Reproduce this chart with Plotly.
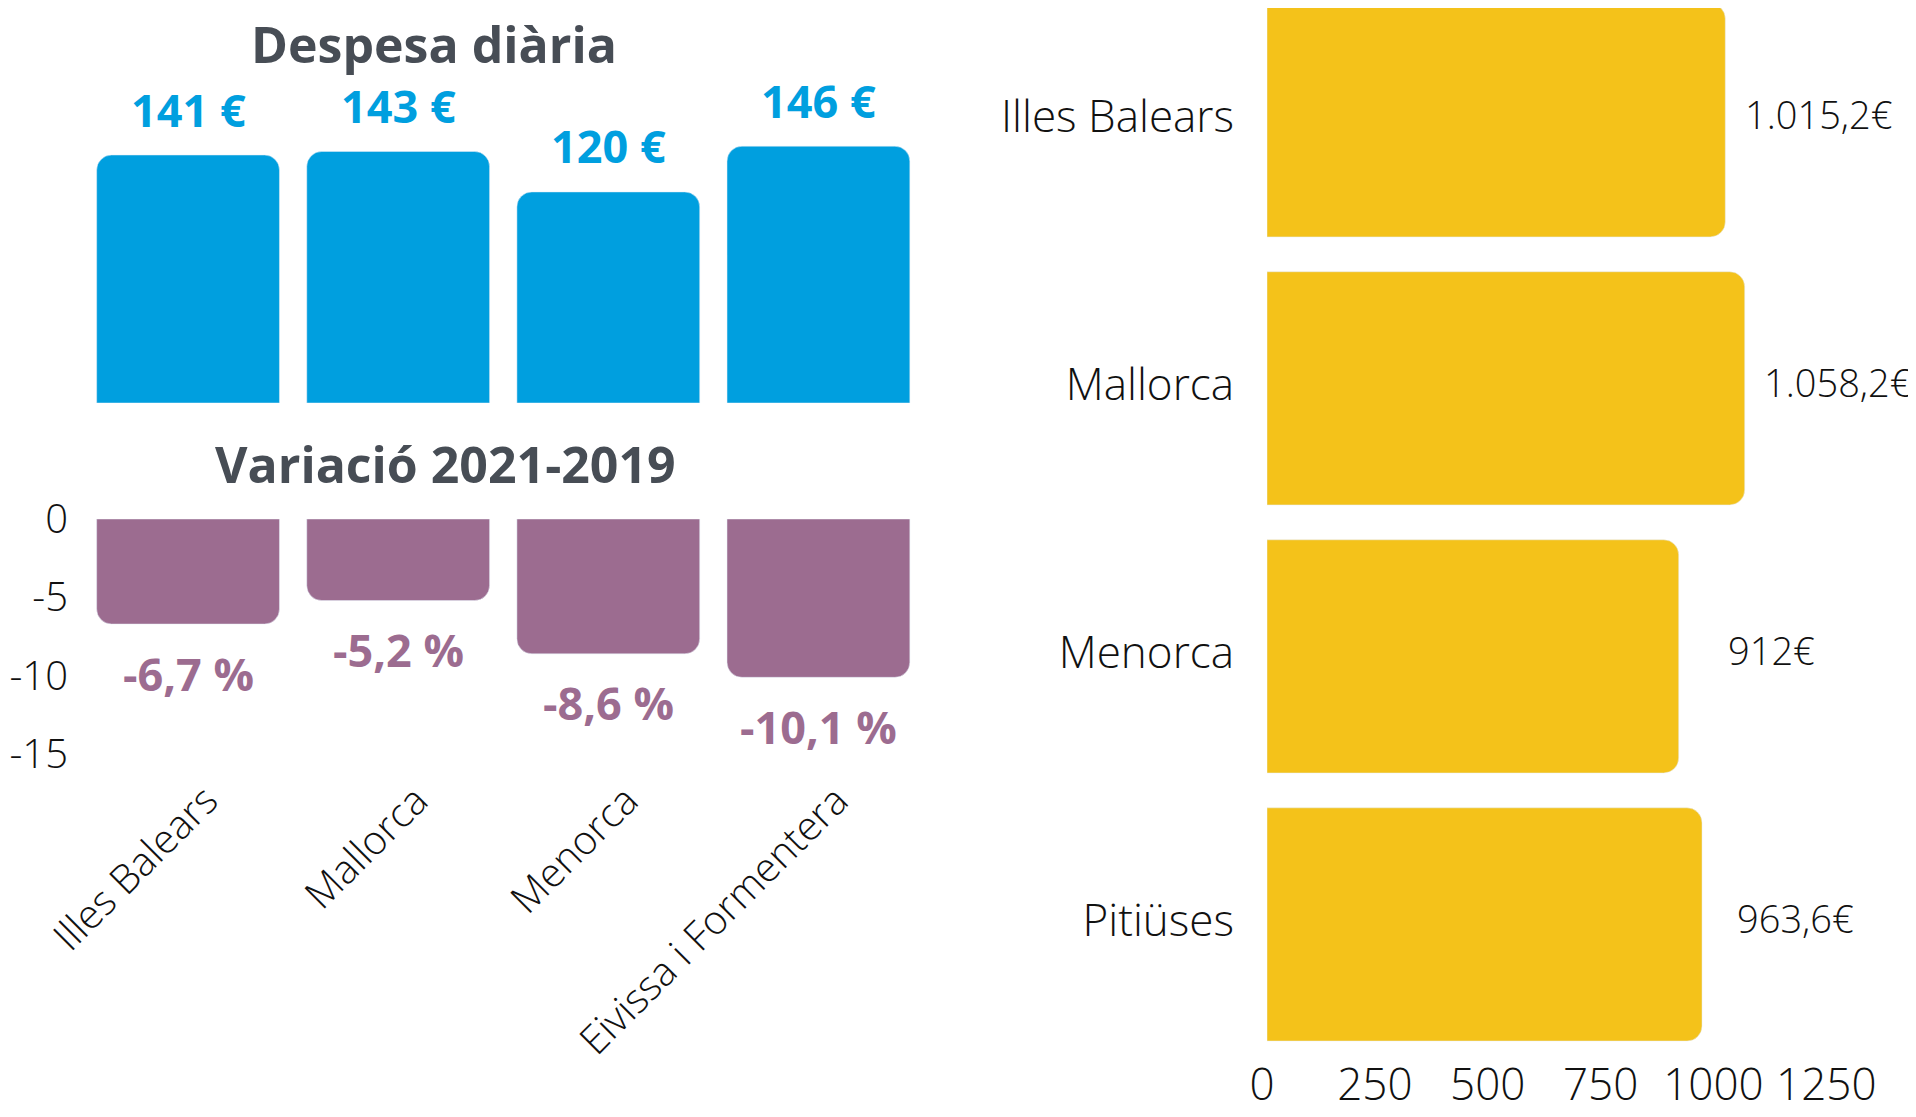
import plotly.graph_objects as go

W, H = 1916, 1117
OFF = 8  # page body margin of the browser

# ---- data ----
cats_left = ["Illes Balears", "Mallorca", "Menorca", "Eivissa i Formentera"]
daily_spend = [141, 143, 120, 146]
daily_labels = ["141 €", "143 €", "120 €", "146 €"]

variation = [-6.7, -5.2, -8.6, -10.1]
variation_labels = ["-6,7 %", "-5,2 %", "-8,6 %", "-10,1 %"]
var_tickvals = [0, -5, -10, -15]
var_ticktext = ["0", "-5", "-10", "-15"]

cats_right = ["Illes Balears", "Mallorca", "Menorca", "Pitiüses"]
total_spend = [1015.2, 1058.2, 912, 963.6]
total_labels = ["1.015,2€", "1.058,2€", "912€", "963,6€"]
right_tickvals = [0, 250, 500, 750, 1000, 1250]

title_top = "Despesa diària"
title_bottom = "Variació 2021-2019"

# ---- styles ----
BLUE = "#009FDF"
PURPLE = "#9C6C90"
YELLOW = "#F4C21A"
DARK = "#474D55"
FONT = "Open Sans"


def px_x(p):
    return (p - OFF) / W


def px_y(p):
    return 1 - (p - OFF) / H


fig = go.Figure()

fig.add_trace(go.Bar(x=cats_left, y=daily_spend, marker=dict(color=BLUE, cornerradius=15),
                     xaxis="x", yaxis="y", hoverinfo="skip"))
fig.add_trace(go.Bar(x=cats_left, y=variation, marker=dict(color=PURPLE, cornerradius=15),
                     xaxis="x2", yaxis="y2", hoverinfo="skip"))
fig.add_trace(go.Bar(y=cats_right, x=total_spend, orientation="h",
                     marker=dict(color=YELLOW, cornerradius=15),
                     xaxis="x3", yaxis="y3", hoverinfo="skip"))

annotations = []
for c, v, t in zip(cats_left, daily_spend, daily_labels):
    annotations.append(dict(x=c, y=v, xref="x", yref="y", text=t, showarrow=False,
                            yanchor="middle", yshift=46,
                            font=dict(family=FONT, size=45, color=BLUE, weight=700)))
for c, v, t in zip(cats_left, variation, variation_labels):
    annotations.append(dict(x=c, y=v, xref="x2", yref="y2", text=t, showarrow=False,
                            yanchor="middle", yshift=-49,
                            font=dict(family=FONT, size=45, color=PURPLE, weight=700)))
for c, v, t in zip(cats_right, total_spend, total_labels):
    annotations.append(dict(x=v, y=c, xref="x3", yref="y3", text=t, showarrow=False,
                            xanchor="center", xshift=93, yshift=6,
                            font=dict(family=FONT, size=38, color="#111111", weight=300)))
annotations.append(dict(x=px_x(434), y=1, xref="paper", yref="paper", text=title_top,
                        showarrow=False, xanchor="center", yanchor="top",
                        font=dict(family=FONT, size=50, color=DARK, weight=700)))
annotations.append(dict(x=px_x(445), y=px_y(464), xref="paper", yref="paper", text=title_bottom,
                        showarrow=False, xanchor="center", yanchor="middle",
                        font=dict(family=FONT, size=50, color=DARK, weight=700)))

light = dict(family=FONT, size=40, color="#111111", weight=300)

fig.update_layout(
    width=W, height=H,
    margin=dict(l=0, r=0, t=0, b=0, autoexpand=False),
    paper_bgcolor="white", plot_bgcolor="white",
    showlegend=False,
    bargap=0.13,
    font=dict(family=FONT),
    annotations=annotations,
    xaxis=dict(domain=[px_x(83), px_x(923.5)], showticklabels=False, showgrid=False,
               zeroline=False, showline=False, ticks="", automargin=False),
    yaxis=dict(domain=[px_y(403), px_y(104)], range=[0, 170], showticklabels=False,
               showgrid=False, zeroline=False, showline=False, automargin=False),
    xaxis2=dict(domain=[px_x(83), px_x(923.5)], tickangle=-45, tickfont=light,
                showgrid=False, zeroline=False, showline=False, ticks="", anchor="y2",
                ticklabelshift=18, ticklabelstandoff=6, automargin=False),
    yaxis2=dict(domain=[px_y(762), px_y(519)], range=[-15.5, 0], tickvals=var_tickvals,
                ticktext=var_ticktext, tickfont=light, showgrid=False, zeroline=False,
                showline=False, ticks="", ticklabelstandoff=14, anchor="x2",
                automargin=False),
    xaxis3=dict(domain=[px_x(1267), px_x(1890)], range=[0, 1380], tickvals=right_tickvals,
                tickfont=dict(family=FONT, size=44, color="#111111", weight=300),
                showgrid=False, zeroline=False, showline=False, ticks="", anchor="y3",
                ticklabelstandoff=-4, ticklabelshift=-5, automargin=False),
    yaxis3=dict(domain=[px_y(1059), 1], range=[3.502, -0.419], categoryorder="array",
                categoryarray=cats_right,
                tickfont=dict(family=FONT, size=44, color="#111111", weight=300),
                showgrid=False, zeroline=False, showline=False, ticks="",
                ticklabelstandoff=32, ticklabelshift=4, anchor="x3", automargin=False),
)

fig.write_html("out.html")
